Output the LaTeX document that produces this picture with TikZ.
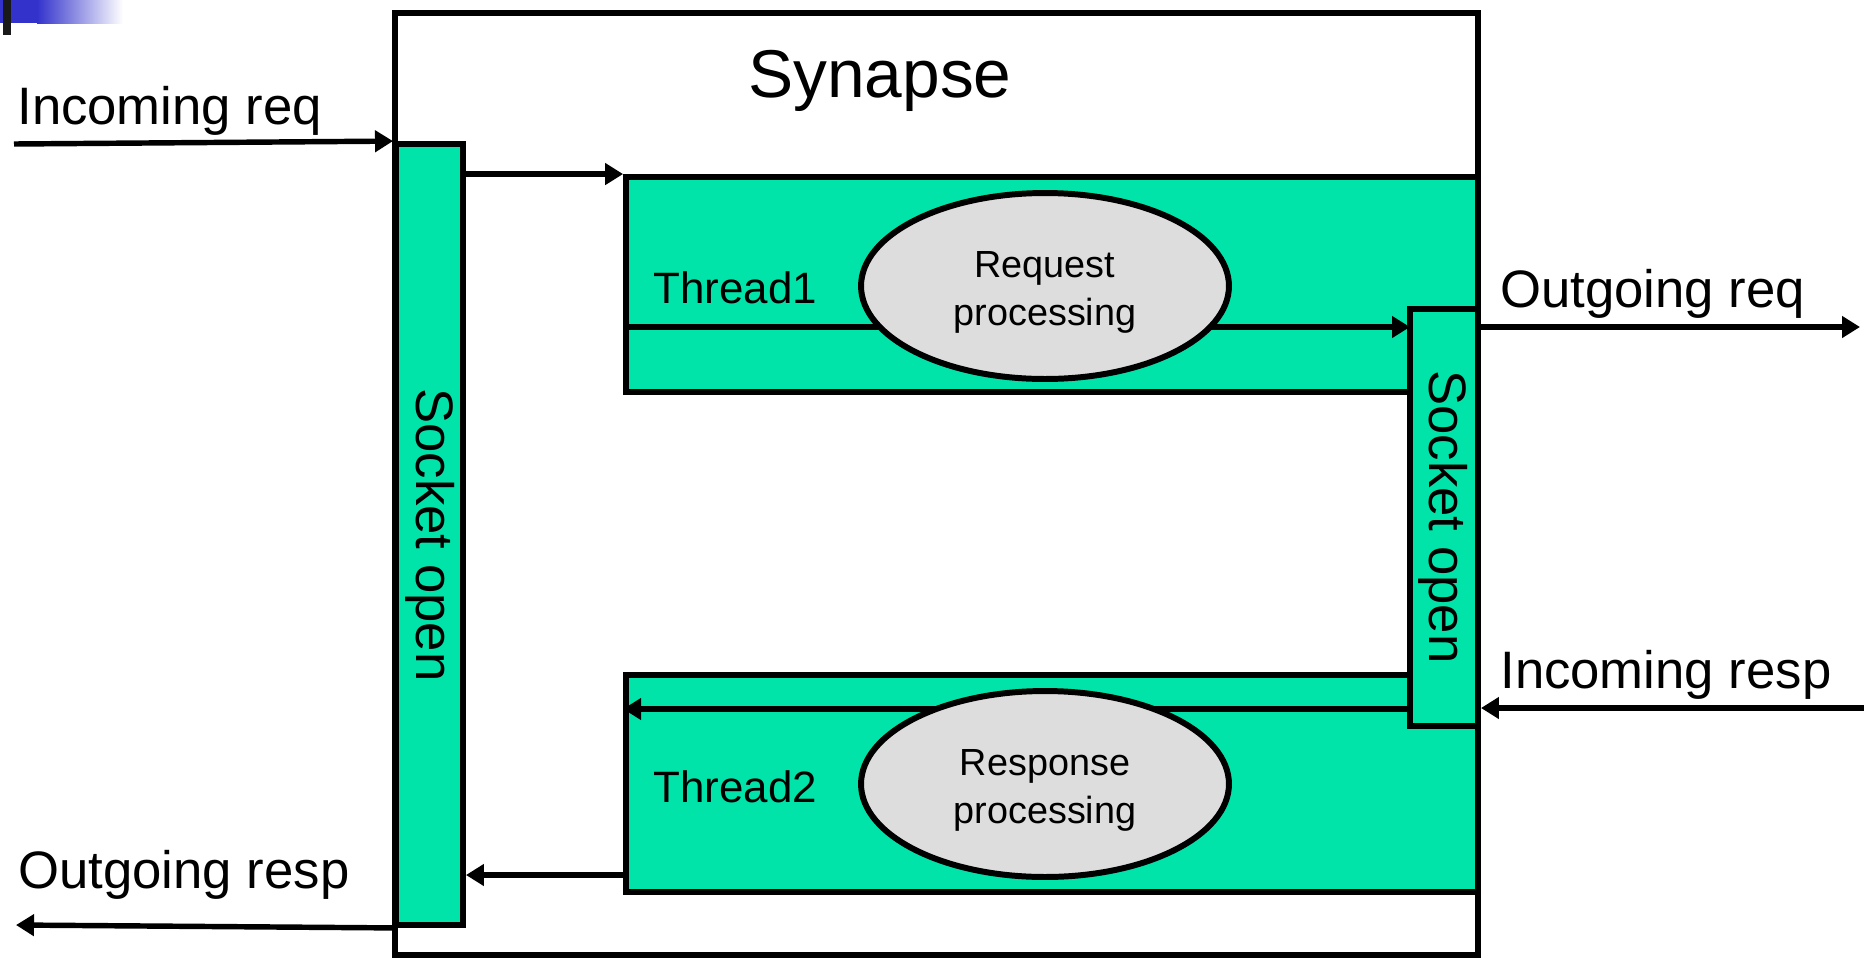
\documentclass[tikz,border=0pt]{standalone}
\usepackage{fontspec}
\setmainfont{Liberation Sans}
\usetikzlibrary{arrows.meta,positioning,shapes}
\definecolor{sockgreen}{RGB}{0,228,170}
\definecolor{procgray}{RGB}{221,221,221}
\definecolor{barblue}{RGB}{51,51,204}
\tikzset{
outer_box/.style={
	% The shape:
	rectangle,
	% The border:
	line width=3pt,
	draw=black,
	inner sep=0pt
}
}
\tikzset{
green_box/.style={
	% The shape:
	rectangle,
	% The border:
	line width=3.4pt,
	draw=black,
	% The filling:
	fill=sockgreen,
	inner sep=0pt
},
proc_ellipse/.style={
	% The shape:
	ellipse,
	% The size:
	minimum width=7.36cm,
	minimum height=3.72cm,
	% The border:
	line width=3.4pt,
	draw=black,
	% The filling:
	fill=procgray,
	inner sep=0pt
},
proc_text/.style={
	% Font
	font=\fontsize{21.5}{27}\selectfont,
	align=center,
	inner sep=0pt,
	yshift=-0.13cm
},
big_label/.style={inner sep=0pt, anchor=base west, font=\fontsize{30}{36}\selectfont},
thread_label/.style={inner sep=0pt, anchor=base west, font=\fontsize{25}{30}\selectfont},
flow/.style={line width=3.1pt, -{Triangle[length=0.36cm,width=0.42cm]}}
}

\begin{document}
\begin{tikzpicture}[x=0.02cm, y=-0.02cm]
	\useasboundingbox (0,0) rectangle (1864,958);
	% corner mark
	\fill[barblue] (0,0) rectangle (37,23);
	\shade[left color=barblue, right color=white] (37,0) rectangle (123,23);
	\fill[black!90] (3,0) rectangle (11,35);

	% boxes
	\node[outer_box, minimum width=21.66cm, minimum height=18.84cm] (synapse) at (936.5,484) {};
	\node[inner sep=0pt, anchor=base, font=\fontsize{38.5}{46}\selectfont] (title) at (880,97) {Synapse};
	\node[green_box, minimum width=17.04cm, minimum height=4.3cm] (t1) at (1052,284.5) {};
	\node[green_box, minimum width=17.04cm, minimum height=4.34cm] (t2) at (1052,783.5) {};
	\node[thread_label] (t1lbl) at (653,303) {Thread1};
	\node[thread_label] (t2lbl) at (653,802) {Thread2};

	% levels of the connectors
	\coordinate (lvlreq) at (0,327);
	\coordinate (lvlresp) at (0,709);
	\coordinate (lvlback) at (0,875);
	\coordinate (inreq) at (14,144);
	\coordinate (outreq) at (1860,327);
	\coordinate (inresp) at (1864,708);
	\coordinate (outresp) at (16,925);

	\draw[flow] (t1.west |- lvlreq) -- (1410,327) coordinate (reqend);
	\draw[flow] (1410,709) coordinate (respstart) -- (t2.west |- lvlresp);

	\node[proc_ellipse] (reqproc) at (1045,286) {};
	\node[proc_text] (reqtxt) at (reqproc) {Request\\processing};
	\node[proc_ellipse] (respproc) at (1045,784) {};
	\node[proc_text] (resptxt) at (respproc) {Response\\processing};

	\node[green_box, minimum width=1.34cm, minimum height=15.62cm] (sockL) at (429.5,534.5) {};
	\node[green_box, minimum width=1.36cm, minimum height=8.34cm] (sockR) at (1444,517.5) {};
	\node[rotate=-90, inner sep=0pt, font=\fontsize{30}{36}\selectfont] (sockLtxt) at (430,535) {Socket open};
	\node[rotate=-90, inner sep=0pt, font=\fontsize{30}{36}\selectfont] (sockRtxt) at (1443,517) {Socket open};

	% connectors
	\draw[flow] (inreq) -- (sockL.north west);
	\draw[flow] (sockL.east |- t1.north) -- (t1.north west);
	\draw[flow] (sockR.east |- lvlreq) -- (outreq);
	\draw[flow] (inresp) -- (sockR.east |- inresp);
	\draw[flow] (t2.west |- lvlback) -- (sockL.east |- lvlback);
	\draw[flow] (sockL.south west) -- (outresp);

	% outside labels
	\node[big_label] (inreqlbl) at (17,124) {Incoming req};
	\node[big_label] (outreqlbl) at (1500,307) {Outgoing req};
	\node[big_label] (inresplbl) at (1500,688) {Incoming resp};
	\node[big_label] (outresplbl) at (18,888) {Outgoing resp};
\end{tikzpicture}
\end{document}
